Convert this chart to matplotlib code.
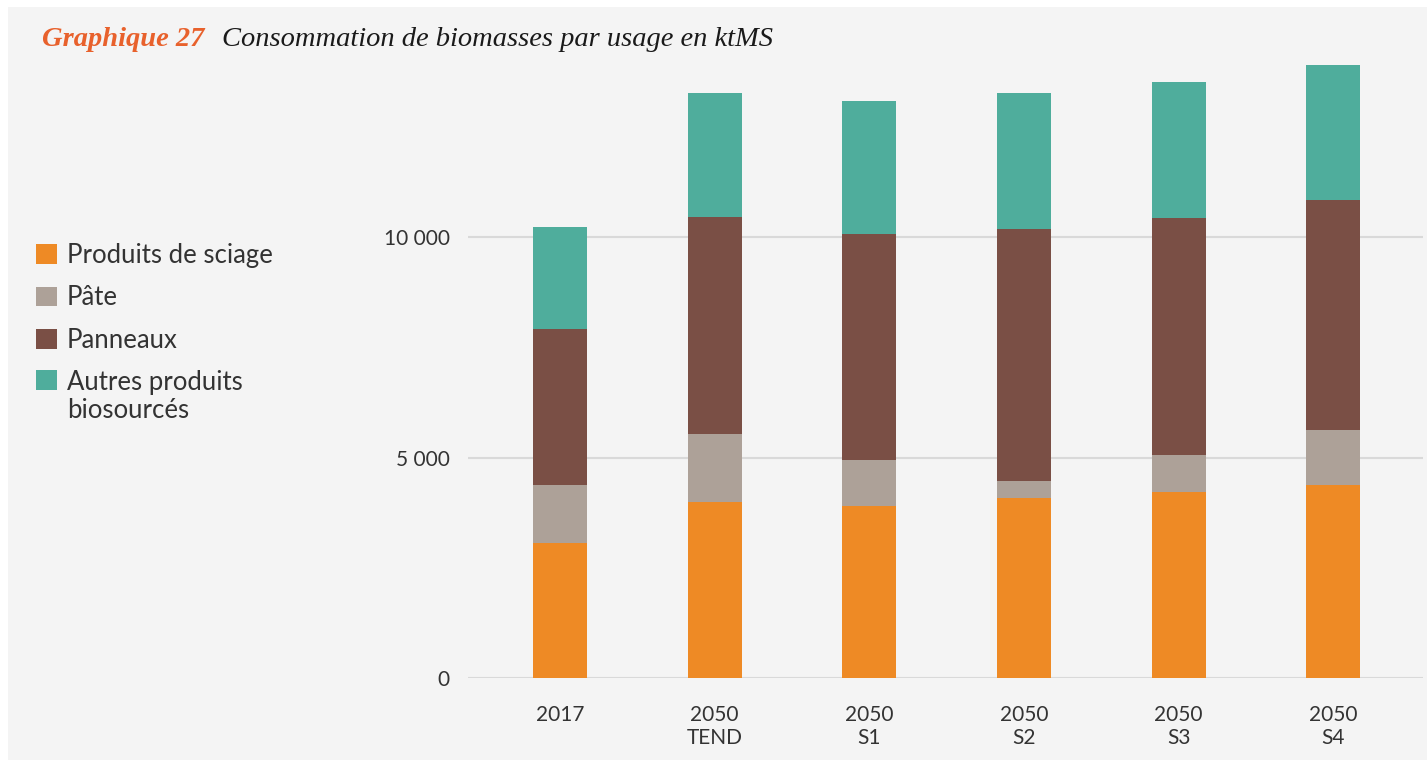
import numpy as np
import matplotlib.pyplot as plt
from matplotlib.patches import Rectangle

# data (ktMS)
categories = ['2017', '2050\nTEND', '2050\nS1', '2050\nS2', '2050\nS3', '2050\nS4']
sciage = [3060, 3990, 3910, 4090, 4230, 4380]
pate = [1320, 1540, 1030, 380, 830, 1240]
panneaux = [3530, 4910, 5130, 5700, 5370, 5220]
autres = [2320, 2820, 3010, 3080, 3080, 3060]

series = [('Produits de sciage', sciage, '#ee8a25'),
          ('Pâte', pate, '#ada198'),
          ('Panneaux', panneaux, '#7a4f45'),
          ('Autres produits\nbiosourcés', autres, '#4fad9c')]

bg = '#f4f4f4'
plt.rcParams['font.family'] = ['Lato', 'DejaVu Sans']

fig = plt.figure(figsize=(14.27, 7.6), dpi=100, facecolor='white')
# grey panel with a thin white margin at top/left
fig.patches.append(Rectangle((8 / 1427, 0), 1, 1 - 7 / 760, transform=fig.transFigure,
                             facecolor=bg, edgecolor='none', zorder=-10))

ax = fig.add_axes([468 / 1427, 1 - 678.3 / 760, (1423 - 468) / 1427, (678.3 - 60.1) / 760])
ax.set_facecolor(bg)
ax.patch.set_alpha(0)

x = np.arange(len(categories))
bottom = np.zeros(len(categories))
for name, vals, col in series:
    ax.bar(x, vals, width=0.35, bottom=bottom, color=col, label=name, zorder=3)
    bottom += np.array(vals)

ax.set_ylim(0, 14000)
ax.set_xlim(-0.595, 5.58)
ax.set_yticks([0, 5000, 10000])
ax.set_yticklabels(['0', '5 000', '10 000'])
ax.yaxis.grid(True, color='#d9d9d9', linewidth=1.5, zorder=0)
ax.set_xticks(x)
ax.set_xticklabels(categories)
ax.tick_params(axis='both', length=0, labelsize=15, labelcolor='#333333')
ax.tick_params(axis='y', pad=13)
ax.tick_params(axis='x', pad=19)
for s in ax.spines.values():
    s.set_visible(False)

leg = fig.legend(loc='upper left', bbox_to_anchor=(36 / 1427, 1 - 243 / 760),
                 frameon=False, fontsize=18.5, handlelength=0.8, handleheight=0.8,
                 handletextpad=0.4, labelspacing=0.68, labelcolor='#333333',
                 borderpad=0, borderaxespad=0)
for t in leg.get_texts():
    t.set_linespacing(1.15)
# square of the two-line entry sits next to its first line
for col in leg._legend_handle_box.get_children():
    col.get_children()[-1].align = 'top'

fig.text(42 / 1427, 1 - 40 / 760, 'Graphique 27', color='#e8612c', fontsize=20.5,
         family='Liberation Serif', style='italic', weight='bold', va='center')
fig.text(222 / 1427, 1 - 40 / 760, 'Consommation de biomasses par usage en ktMS',
         color='#1a1a1a', fontsize=20.5, family='Liberation Serif', style='italic',
         va='center')

fig.savefig('out.png', dpi=100, facecolor=fig.get_facecolor())
